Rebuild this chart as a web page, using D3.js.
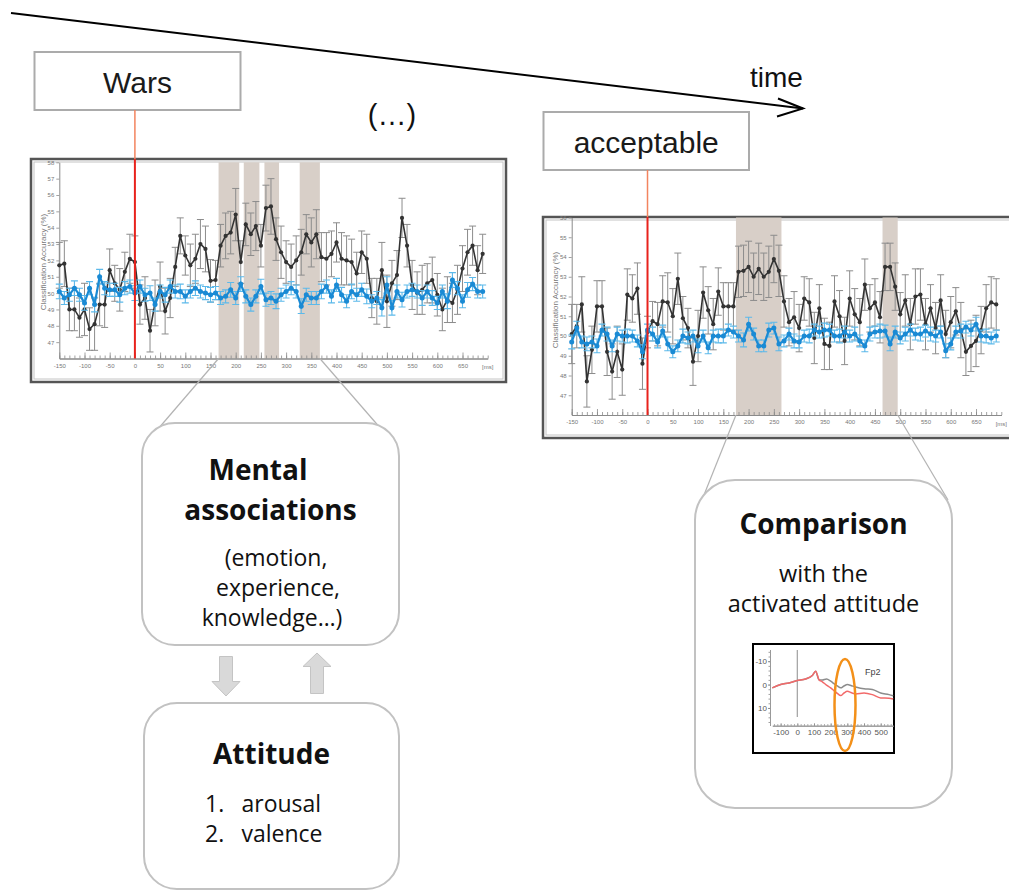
<!DOCTYPE html>
<html>
<head>
<meta charset="utf-8">
<script src="https://cdn.jsdelivr.net/npm/d3@7"></script>
<style>
  body { margin: 0; background: #fff; }
  svg { display: block; }
</style>
</head>
<body>
<svg id="fig" width="1009" height="892"></svg>
<script>
// ---- sample times (ms) shared by both decoding panels ----
const times = [-150,-140,-130,-120,-110,-100,-90,-80,-70,-60,
  -50,-40,-30,-20,-10,0,10,20,30,40,
  50,60,70,80,90,100,110,120,130,140,
  150,160,170,180,190,200,210,220,230,240,
  250,260,270,280,290,300,310,320,330,340,
  350,360,370,380,390,400,410,420,430,440,
  450,460,470,480,490,500,510,520,530,540,
  550,560,570,580,590,600,610,620,630,640,
  650,660,670,680,690];
const xTickLabels = [-150,-100,-50,0,50,100,150,200,250,300,350,400,450,500,550,600,650];

// ---- panel 1: "Wars" ----
const warsBlack = [51.7,51.8,49.0,49.0,48.5,49.0,47.8,48.1,49.3,49.3,
  51.4,50.6,50.2,51.3,52.1,51.9,49.3,49.7,47.7,49.4,
  50.4,48.9,49.7,51.6,53.5,52.3,51.7,52.1,53.0,52.7,
  50.75,50.8,52.9,53.5,53.7,54.8,51.9,54.2,53.6,54.1,
  52.9,55.2,55.3,53.3,52.5,51.9,51.6,52.0,52.5,53.6,
  53.1,53.6,52.2,52.1,52.4,53.1,52.1,52.0,51.9,51.2,
  52.5,52.1,49.7,49.5,51.4,49.5,50.6,51.1,54.6,52.9,
  50.5,50.0,50.2,50.6,50.8,49.9,49.0,49.6,49.4,50.2,
  51.5,52.5,52.9,51.4,52.4];
const warsBlackErr = [1.4,1.4,1.3,1.3,1.2,1.6,1.3,1.6,1.3,1.4,
  1.3,1.1,1.3,1.2,1.5,1.6,1.2,1.3,1.3,1.4,
  1.5,1.4,1.2,1.2,1.1,1.2,1.3,1.5,1.5,1.4,
  1.3,1.2,1.3,1.4,1.3,1.6,1.3,1.3,1.3,1.5,
  1.3,1.4,1.7,1.3,1.6,1.3,1.4,1.5,1.4,1.2,
  1.5,1.5,1.5,1.6,1.4,1.2,1.6,1.5,1.4,1.3,
  1.3,1.5,1.2,1.4,1.7,1.6,1.4,1.5,1.2,1.3,
  1.5,1.3,1.5,1.2,1.4,1.3,1.3,1.4,1.2,1.5,
  1.4,1.4,1.2,1.5,1.2];
const warsBlue = [50.1,49.7,49.9,50.3,49.9,49.4,50.3,49.3,51.0,50.3,
  50.2,50.2,49.9,50.3,50.4,50.0,50.4,49.9,50.0,49.3,
  50.1,49.9,50.4,50.1,50.1,49.8,50.1,50.3,50.1,50.0,
  49.9,50.0,49.7,49.8,50.2,49.7,50.55,49.8,49.3,49.8,
  50.4,49.6,49.7,49.5,49.9,50.1,50.3,50.1,49.2,49.9,
  49.7,49.7,50.1,50.4,49.8,50.5,49.9,49.5,50.1,49.9,
  50.2,49.8,49.5,49.7,49.1,50.5,49.1,50.1,49.6,50.1,
  50.2,50.1,49.7,50.1,49.7,49.4,50.1,49.5,50.8,50.3,
  49.5,50.2,50.55,50.1,50.1];
const warsBlueErr = [0.45,0.4,0.4,0.45,0.4,0.45,0.4,0.45,0.45,0.4,
  0.4,0.4,0.45,0.4,0.4,0.45,0.4,0.4,0.45,0.4,
  0.4,0.45,0.4,0.4,0.45,0.4,0.4,0.45,0.4,0.4,
  0.45,0.4,0.4,0.4,0.45,0.4,0.45,0.4,0.4,0.4,
  0.45,0.4,0.4,0.45,0.4,0.4,0.4,0.4,0.45,0.4,
  0.4,0.4,0.45,0.4,0.4,0.4,0.45,0.4,0.45,0.4,
  0.4,0.45,0.4,0.4,0.5,0.5,0.45,0.4,0.45,0.4,
  0.4,0.4,0.45,0.4,0.45,0.4,0.4,0.45,0.45,0.4,
  0.4,0.45,0.4,0.4,0.4];
const warsSpans = [[166, 207], [216, 247], [257, 286], [327, 367]];
const warsYTicks = [47,48,49,50,51,52,53,54,55,56,57,58];

// ---- panel 2: "acceptable" ----
const accBlack = [50.1,50.5,51.6,47.7,49.3,51.5,51.5,49.2,48.2,49.2,
  48.3,52.1,51.9,52.4,48.6,50.2,50.75,50.6,51.75,51.7,
  51.0,52.9,50.9,50.4,48.7,50.0,52.2,51.3,50.6,52.25,
  51.5,51.5,51.5,53.25,53.3,53.5,53.0,53.4,53.0,53.25,
  53.9,53.3,51.75,50.7,50.95,50.4,51.9,51.7,49.9,51.4,
  49.6,49.5,51.75,51.0,49.75,51.9,51.1,50.7,52.6,51.4,
  51.7,50.95,53.5,53.5,52.5,51.1,51.8,50.6,52.0,52.1,
  50.6,51.4,50.4,51.8,50.1,50.7,51.25,50.3,49.2,49.5,
  49.75,50.3,51.4,51.7,51.6];
const accBlackErr = [1.5,1.1,1.4,1.3,1.2,1.3,1.3,1.2,1.4,1.3,
  1.3,1.3,1.2,1.3,1.3,0.8,1.0,1.1,1.3,1.5,
  1.4,1.3,1.1,1.0,1.2,1.3,1.3,1.2,1.3,1.2,
  1.2,1.2,1.2,1.3,1.3,1.3,1.2,1.3,1.2,1.3,
  1.2,1.3,1.3,1.2,1.3,1.2,1.1,1.2,1.3,1.2,
  1.3,1.2,1.3,1.3,1.2,1.4,1.3,1.2,1.3,1.2,
  1.2,1.3,1.2,1.2,1.2,1.1,1.3,1.3,1.4,1.3,
  1.3,1.2,1.3,1.3,1.2,1.3,1.2,1.4,1.2,1.3,
  1.3,1.2,1.2,1.3,1.3];
const accBlue = [49.7,50.4,49.7,49.6,49.7,49.5,50.3,50.1,49.5,50.1,
  50.0,50.0,50.0,49.75,49.2,50.3,50.1,49.7,50.25,49.6,
  49.2,49.5,50.0,49.9,50.0,49.5,50.0,49.4,50.0,50.0,
  50.0,50.3,50.2,50.0,49.8,50.6,50.1,49.5,49.5,50.3,
  50.4,49.6,49.75,50.1,49.75,49.7,50.0,50.0,50.3,50.2,
  50.3,50.3,50.0,50.0,50.2,50.0,50.1,49.75,49.5,50.1,
  50.2,50.25,50.25,49.6,50.2,49.9,50.1,50.3,50.1,50.1,
  50.25,50.1,50.0,50.2,49.25,49.6,50.2,50.25,50.45,50.3,
  50.6,50.0,50.0,49.9,50.0];
const accBlueErr = [0.35,0.35,0.3,0.35,0.3,0.35,0.3,0.35,0.3,0.35,
  0.3,0.35,0.3,0.3,0.35,0.3,0.35,0.3,0.3,0.35,
  0.3,0.3,0.35,0.3,0.3,0.35,0.3,0.3,0.3,0.35,
  0.35,0.3,0.3,0.3,0.35,0.35,0.3,0.3,0.3,0.35,
  0.3,0.35,0.3,0.3,0.35,0.3,0.3,0.35,0.3,0.3,
  0.35,0.3,0.3,0.35,0.3,0.3,0.35,0.3,0.3,0.35,
  0.3,0.35,0.3,0.35,0.3,0.3,0.35,0.3,0.3,0.35,
  0.3,0.35,0.3,0.3,0.35,0.3,0.3,0.35,0.3,0.3,
  0.35,0.3,0.35,0.3,0.3];
const accSpans = [[175, 265], [465, 495]];
const accYTicks = [47,48,49,50,51,52,53,54,55,56];

// ---- ERP inset (Fp2) ----
const erpTimes = [-150,-100,-50,0,50,90,110,130,150,175,200,220,240,260,280,300,325,350,400,450,500,550,575];
const erpGray  = [1.4,0,-0.7,-1.7,-2.4,-3.9,-5.7,-2.1,-2.0,-2.4,-1.5,-0.4,0.6,1.4,0.6,0,0.5,1.0,1.8,2.1,3.6,4.3,4.8];
const erpRed   = [1.4,0,-0.7,-1.7,-2.4,-3.9,-5.7,-2.1,-1.2,0.2,1.4,2.6,3.8,4.7,3.6,2.9,3.5,4.0,3.6,4.3,5.7,5.8,6.2];
const erpYTicks = [-10, 0, 10];
const erpXTicks = [-100, 0, 100, 200, 300, 400, 500];

const svg = d3.select("#fig");
const SANS = "'Liberation Sans', Arial, sans-serif";
const BODY = "'Open Sans', 'Noto Sans', sans-serif";
const plain = d => String(d);   // hyphen-minus tick labels

// ---------- time arrow across the top ----------
svg.append("line").attr("x1", 11).attr("y1", 13).attr("x2", 803).attr("y2", 108.5)
  .attr("stroke", "#000").attr("stroke-width", 2);
svg.append("path").attr("d", "M778,98.5 L803,108.5 L777,116.5")
  .attr("fill", "none").attr("stroke", "#000").attr("stroke-width", 2);
svg.append("text").attr("x", 750).attr("y", 86.5).text("time")
  .attr("font-family", SANS).attr("font-size", 28).attr("fill", "#111");
svg.append("text").attr("x", 392).attr("y", 125).attr("text-anchor", "middle").text("(…)")
  .attr("font-family", SANS).attr("font-size", 29).attr("fill", "#111");

// ---------- word boxes ----------
function wordBox(x0, y0, x1, y1, label) {
  svg.append("rect").attr("x", x0).attr("y", y0).attr("width", x1 - x0).attr("height", y1 - y0)
    .attr("fill", "#fff").attr("stroke", "#ababab").attr("stroke-width", 2);
  svg.append("text").attr("x", (x0 + x1) / 2).attr("y", y1 - 17.5).attr("text-anchor", "middle")
    .text(label).attr("font-family", SANS).attr("font-size", 30).attr("fill", "#1a1a1a");
}
wordBox(34.5, 52, 240.5, 110, "Wars");
wordBox(543.5, 112, 749, 170, "acceptable");

// ---------- decoding panels ----------
function panel(cfg) {
  const g = svg.append("g");
  const [fx0, fy0, fx1, fy1] = cfg.frame;
  const x = d3.scaleLinear().domain([-150, 700]).range(cfg.xr);
  const y = d3.scaleLinear().domain(cfg.yd).range(cfg.yr);

  g.append("rect").attr("x", fx0).attr("y", fy0).attr("width", fx1 - fx0).attr("height", fy1 - fy0)
    .attr("fill", "#fff").attr("stroke", "#555").attr("stroke-width", 2.5);
  g.append("rect").attr("x", fx0 + 3).attr("y", fy0 + 3).attr("width", fx1 - fx0 - 6).attr("height", fy1 - fy0 - 6)
    .attr("fill", "none").attr("stroke", "#c4c4c4").attr("stroke-width", 1);

  // significant windows
  g.selectAll(".span").data(cfg.spans).join("rect")
    .attr("x", d => x(d[0])).attr("width", d => x(d[1]) - x(d[0]))
    .attr("y", y(cfg.yd[1])).attr("height", y(cfg.yd[0]) - y(cfg.yd[1]))
    .attr("fill", "#d8cfc8");

  // axes
  const xMinor = g.append("g").attr("transform", `translate(0,${y(cfg.yd[0])})`)
    .call(d3.axisBottom(x).tickValues(times.concat([700])).tickSizeInner(-3).tickSizeOuter(0).tickFormat(""));
  const xMajor = g.append("g").attr("transform", `translate(0,${y(cfg.yd[0])})`)
    .call(d3.axisBottom(x).tickValues(xTickLabels).tickSizeInner(-6).tickSizeOuter(0).tickPadding(5).tickFormat(plain));
  const yAx = g.append("g").attr("transform", `translate(${x(-150)},0)`)
    .call(d3.axisLeft(y).tickValues(cfg.yTicks).tickSize(3).tickPadding(2).tickSizeOuter(0).tickFormat(plain));
  [xMinor, xMajor, yAx].forEach(a => {
    a.selectAll("path.domain").attr("stroke", "#8a8a8a").attr("stroke-width", 1);
    a.selectAll(".tick line").attr("stroke", "#8a8a8a").attr("stroke-width", 0.8);
    a.selectAll("text").attr("font-family", SANS).attr("font-size", 6).attr("fill", "#777");
  });
  g.append("text").attr("x", x(700)).attr("y", y(cfg.yd[0]) + 10.5).attr("text-anchor", "middle")
    .text("[ms]").attr("font-family", SANS).attr("font-size", 6).attr("fill", "#777");
  g.append("text").attr("transform", `translate(${fx0 + 15},${cfg.titleY}) rotate(-90)`)
    .attr("text-anchor", "middle").text("Classification Accuracy (%)")
    .attr("font-family", SANS).attr("font-size", 8).attr("fill", "#7a7a7a");

  const blk = times.map((t, i) => ({ t, v: cfg.black[i], e: cfg.blackErr[i] }));
  const blu = times.map((t, i) => ({ t, v: cfg.blue[i], e: cfg.blueErr[i] }));
  const errPath = d => {
    const cx = x(d.t), a = y(d.v + d.e), b = y(d.v - d.e);
    return `M${cx},${a}V${b}M${cx - 3.5},${a}h7M${cx - 3.5},${b}h7`;
  };
  const line = d3.line().x(d => x(d.t)).y(d => y(d.v));

  g.append("g").selectAll("path").data(blk).join("path").attr("d", errPath)
    .attr("fill", "none").attr("stroke", "#8c8c8c").attr("stroke-width", 1);
  g.append("path").datum(blk).attr("d", line).attr("fill", "none")
    .attr("stroke", "#333").attr("stroke-width", 1.6);
  g.append("g").selectAll("circle").data(blk).join("circle")
    .attr("cx", d => x(d.t)).attr("cy", d => y(d.v)).attr("r", 2.1).attr("fill", "#333");

  g.append("g").selectAll("path").data(blu).join("path").attr("d", errPath)
    .attr("fill", "none").attr("stroke", "#5cb9ea").attr("stroke-width", 1.1);
  g.append("path").datum(blu).attr("d", line).attr("fill", "none")
    .attr("stroke", "#1a8ad4").attr("stroke-width", 2.2);
  g.append("g").selectAll("circle").data(blu).join("circle")
    .attr("cx", d => x(d.t)).attr("cy", d => y(d.v)).attr("r", 2.5).attr("fill", "#1a8ad4");

  // stimulus onset
  g.append("line").attr("x1", x(0)).attr("x2", x(0)).attr("y1", cfg.onsetFrom).attr("y2", fy0)
    .attr("stroke", "#f3845f").attr("stroke-width", 1.5);
  g.append("line").attr("x1", x(0)).attr("x2", x(0)).attr("y1", fy0).attr("y2", y(cfg.yd[0]))
    .attr("stroke", "#e8221c").attr("stroke-width", 2);
  return { x, y };
}

const p1 = panel({
  frame: [31, 159, 506, 382], xr: [59.3, 487.7], yd: [46, 58], yr: [358.5, 162.3],
  yTicks: warsYTicks, spans: warsSpans, titleY: 262,
  black: warsBlack, blackErr: warsBlackErr, blue: warsBlue, blueErr: warsBlueErr,
  onsetFrom: 110
});
const p2 = panel({
  frame: [543, 217, 1030, 438], xr: [571.7, 1001.3], yd: [46, 56], yr: [415, 217.5],
  yTicks: accYTicks, spans: accSpans, titleY: 300,
  black: accBlack, blackErr: accBlackErr, blue: accBlue, blueErr: accBlueErr,
  onsetFrom: 170
});

// ---------- callout lines from the windows to the boxes ----------
const callout = (x1, y1, x2, y2) => svg.append("line")
  .attr("x1", x1).attr("y1", y1).attr("x2", x2).attr("y2", y2)
  .attr("stroke", "#b3b3b3").attr("stroke-width", 1.2);
callout(p1.x(warsSpans[0][0]), p1.y(46), 146, 443);
callout(p1.x(warsSpans[3][1]), p1.y(46), 395, 445);
callout(p2.x(accSpans[0][0]), p2.y(46), 700, 505);
callout(p2.x(accSpans[1][1]), p2.y(46), 948, 500);

// ---------- rounded text boxes ----------
function roundBox(x0, y0, x1, y1, r) {
  svg.append("rect").attr("x", x0).attr("y", y0).attr("width", x1 - x0).attr("height", y1 - y0)
    .attr("rx", r).attr("ry", r).attr("fill", "#fff").attr("stroke", "#c2c2c2").attr("stroke-width", 2);
}
function label(x, y, s, size, bold, anchor) {
  svg.append("text").attr("x", x).attr("y", y).attr("text-anchor", anchor || "middle").text(s)
    .attr("font-family", BODY).attr("font-size", size).attr("font-weight", bold ? 700 : 400)
    .attr("fill", "#111");
}
roundBox(142, 423, 399, 645, 33);
label(258, 480, "Mental", 28, true);
label(270.5, 520, "associations", 28, true);
label(276, 566, "(emotion,", 23);
label(278, 596, "experience,", 23);
label(272, 626, "knowledge…)", 23);

roundBox(144, 703, 399, 889, 33);
label(271.5, 764, "Attitude", 28, true);
label(205, 812, "1.", 23, false, "start");
label(241.5, 812, "arousal", 23, false, "start");
label(205, 842, "2.", 23, false, "start");
label(241.5, 842, "valence", 23, false, "start");

// block arrows between the boxes
const blockArrow = (cx, tipY, headY, tailY) => {
  svg.append("path").attr("d",
    `M${cx - 6.5},${tailY} L${cx + 6.5},${tailY} L${cx + 6.5},${headY} L${cx + 14},${headY}` +
    ` L${cx},${tipY} L${cx - 14},${headY} L${cx - 6.5},${headY} Z`)
    .attr("fill", "#d9d9d9").attr("stroke", "#c4c4c4").attr("stroke-width", 1);
};
blockArrow(226, 696, 681.5, 656.5);
blockArrow(317, 653, 666.5, 693.5);

roundBox(695, 480, 952, 808, 40);
label(823.5, 534, "Comparison", 28, true);
label(823.5, 582, "with the", 23.5);
label(823.5, 612, "activated attitude", 23.5);

// ---------- ERP inset ----------
const inset = svg.append("g");
inset.append("rect").attr("x", 753).attr("y", 644).attr("width", 141).attr("height", 109)
  .attr("fill", "#fff").attr("stroke", "#000").attr("stroke-width", 2);
const xi = d3.scaleLinear().domain([-150, 575]).range([772.3, 893.2]);
const yi = d3.scaleLinear().domain([-15, 17.5]).range([649.5, 725.5]);
const iyAx = inset.append("g").attr("transform", `translate(770,0)`)
  .call(d3.axisLeft(yi).tickValues(erpYTicks).tickSize(2).tickPadding(1).tickSizeOuter(0).tickFormat(plain));
const iyMinor = inset.append("g").attr("transform", `translate(770,0)`)
  .call(d3.axisLeft(yi).ticks(16).tickSize(1.5).tickSizeOuter(0).tickFormat(""));
const ixAx = inset.append("g").attr("transform", `translate(0,725.7)`)
  .call(d3.axisBottom(xi).tickValues(erpXTicks).tickSizeInner(-2.5).tickSizeOuter(0).tickPadding(4).tickFormat(plain));
const ixMinor = inset.append("g").attr("transform", `translate(0,725.7)`)
  .call(d3.axisBottom(xi).ticks(30).tickSizeInner(-1.5).tickSizeOuter(0).tickFormat(""));
[iyAx, iyMinor, ixAx, ixMinor].forEach(a => {
  a.selectAll("path.domain").attr("stroke", "#999").attr("stroke-width", 1);
  a.selectAll(".tick line").attr("stroke", "#888").attr("stroke-width", 0.8);
  a.selectAll("text").attr("font-family", SANS).attr("font-size", 8).attr("fill", "#555");
});
iyAx.select("path.domain").attr("stroke-dasharray", "1.5,1");
inset.append("line").attr("x1", xi(0)).attr("x2", xi(0)).attr("y1", 650).attr("y2", 717)
  .attr("stroke", "#a0a0a0").attr("stroke-width", 1.2);
const erpLine = d3.line().x(d => xi(d[0])).y(d => yi(d[1])).curve(d3.curveMonotoneX);
inset.append("path").datum(erpTimes.map((t, i) => [t, erpGray[i]])).attr("d", erpLine)
  .attr("fill", "none").attr("stroke", "#8c8c8c").attr("stroke-width", 1.5);
inset.append("path").datum(erpTimes.map((t, i) => [t, erpRed[i]])).attr("d", erpLine)
  .attr("fill", "none").attr("stroke", "#f26a6a").attr("stroke-width", 1.5);
inset.append("text").attr("x", 865).attr("y", 675).text("Fp2")
  .attr("font-family", SANS).attr("font-size", 9).attr("fill", "#444");
inset.append("ellipse").attr("cx", xi(286)).attr("cy", 705).attr("rx", 10.5).attr("ry", 46)
  .attr("fill", "none").attr("stroke", "#f39019").attr("stroke-width", 2.5);
</script>
</body>
</html>
